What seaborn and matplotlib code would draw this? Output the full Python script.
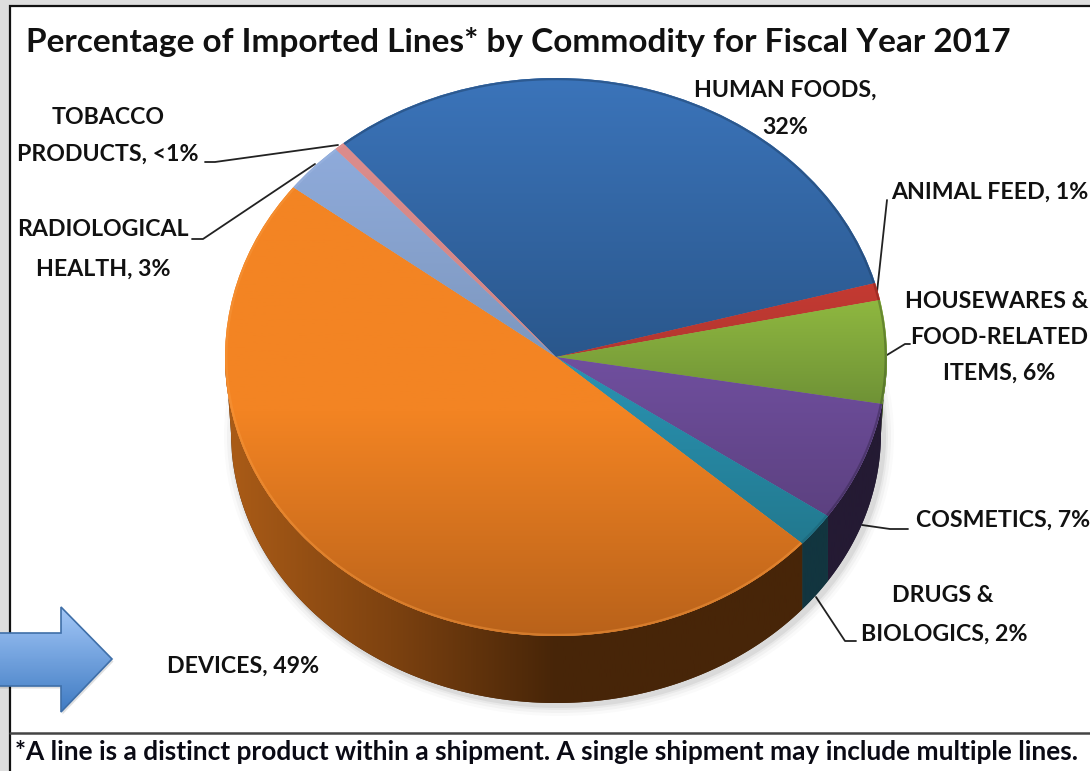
import numpy as np
import matplotlib
matplotlib.use("Agg")
import matplotlib.pyplot as plt
from matplotlib.patches import Ellipse, Polygon, Rectangle
import seaborn as sns

# Share of imported lines per commodity, clockwise from the top-left
categories = ["Human Foods", "Animal Feed", "Housewares & Food-Related Items", "Cosmetics",
              "Drugs & Biologics", "Devices", "Radiological Health", "Tobacco Products"]
values = [32, 1, 6, 7, 2, 49, 3, 0.5]
face_top = ["#3b74ba", "#c43a32", "#8fb840", "#704f9f", "#2a93b3", "#f38423", "#8fabdb", "#dc8c8c"]
face_bottom = ["#2a578c", "#b33630", "#6f9236", "#5c4180", "#22798f", "#b9621a", "#7d97be", "#cf8585"]
side_left = ["#1b3350", "#5a1a16", "#34481a", "#241a33", "#12353f", "#ab5c17", "#4a5a78", "#6a3c3c"]
side_right = ["#1b3350", "#5a1a16", "#34481a", "#241a33", "#12353f", "#472508", "#4a5a78", "#6a3c3c"]
rim_colors = ["#1d3d63", "#7a1f1a", "#3c5620", "#33244a", "#1b5f70", "#f79a40", "#9fb8e2", "#e09a9a"]

title = "Percentage of Imported Lines* by Commodity for Fiscal Year 2017"
footnote = "*A line is a distinct product within a shipment. A single shipment may include multiple lines."
label_lines = [
    ("HUMAN FOODS,", 785, 90, "center"), ("32%", 785, 128, "center"),
    ("ANIMAL FEED, 1%", 891, 192, "left"),
    ("HOUSEWARES &", 997, 301, "center"), ("FOOD-RELATED", 999, 338, "center"), ("ITEMS, 6%", 999, 373, "center"),
    ("COSMETICS, 7%", 916, 520, "left"),
    ("DRUGS &", 943, 596, "center"), ("BIOLOGICS, 2%", 944, 634, "center"),
    ("DEVICES, 49%", 243, 666, "center"),
    ("RADIOLOGICAL", 103, 230, "center"), ("HEALTH, 3%", 103, 269, "center"),
    ("TOBACCO", 108, 117, "center"), ("PRODUCTS, <1%", 108, 154, "center"),
]
leader_xs = [[205, 215, 338], [192, 203, 315], [877, 887], [887, 905, 910], [862, 890, 908], [816, 845, 856]]
leader_ys = [[162, 162, 145], [239, 239, 164], [292, 200], [355, 344, 344], [525, 529, 529], [597, 641, 641]]

W, H = 1090, 771
CX, CY, A, B = 556, 357, 331, 279     # top face of the pie
CY2, A2, B2 = 433, 325, 270           # bottom rim of the pie

sns.set_theme(style="white")
plt.rcParams["font.family"] = ["Lato", "DejaVu Sans"]
plt.rcParams["font.weight"] = "bold"

fig = plt.figure(figsize=(W / 100, H / 100), dpi=100, facecolor="#dedede")

# Page layer in pixel units: frame, arrow, labels and leader lines
page = fig.add_axes([0, 0, 1, 1], zorder=0)
page.set_xlim(0, W)
page.set_ylim(H, 0)
page.axis("off")
page.add_patch(Rectangle((10, 6), W, H, fc="white", ec="#111111", lw=1.6))
page.plot([10, W], [733, 733], color="#444444", lw=1.8)

arrow = Polygon([(-4, 633), (61, 633), (61, 607), (112, 659), (61, 712), (61, 686), (-4, 686)],
                closed=True, fc="#6f9fdc", ec="none", zorder=2)
shadow = Polygon(arrow.get_xy() + [1.5, 2.5], closed=True, fc="#000000", alpha=0.12, ec="none", zorder=1.5)
outline = Polygon(arrow.get_xy(), closed=True, fc="none", ec="#3f6fa8", lw=1.2, zorder=2.2)
page.add_patch(shadow)
page.add_patch(arrow)
page.add_patch(outline)
arrow_cmap = sns.blend_palette(["#a3c7f7", "#3f7bc3"], as_cmap=True)
arrow_img = page.imshow(np.linspace(0, 1, 128)[:, None], extent=(-4, 112, 712, 607), cmap=arrow_cmap,
                        aspect="auto", origin="upper", zorder=2.1)
arrow_img.set_clip_path(arrow)
page.set_xlim(0, W)
page.set_ylim(H, 0)

page.text(26, 42, title, fontsize=24.0, color="#111111", va="center", ha="left", fontweight="bold")
page.text(15, 752, footnote, fontsize=18.9, color="#0a0a14", va="center", ha="left", fontweight="bold")
for text, x, y, align in label_lines:
    page.text(x, y, text, fontsize=16.7, color="#111111", ha=align, va="center", fontweight="bold")
for xs, ys in zip(leader_xs, leader_ys):
    page.plot(xs, ys, color="#222222", lw=1.3)

# Pie layer: data units are the top-face radii, so the circle appears as an ellipse
pie_ax = fig.add_axes([0, 0, 1, 1], zorder=1)
pie_ax.patch.set_alpha(0)
wedges, _ = pie_ax.pie(values, startangle=130, counterclock=False, radius=1, colors=face_top,
                       wedgeprops=dict(linewidth=0))
x_limits = (-CX / A, (W - CX) / A)
y_limits = ((CY - H) / B, CY / B)


def restore_view():
    pie_ax.set_aspect("auto")
    pie_ax.set_xlim(*x_limits)
    pie_ax.set_ylim(*y_limits)
    pie_ax.axis("off")


restore_view()

# Soft drop shadow under the body
low_y = (CY - CY2) / B
for grow, alpha in [(10, 0.02), (7, 0.03), (4, 0.04), (2, 0.06)]:
    pie_ax.add_patch(Ellipse((3 / A, low_y - 3 / B), 2 * (A2 + grow) / A, 2 * (B2 + grow) / B,
                             fc="black", ec="none", alpha=alpha, zorder=0.2))

# Side walls: the front part of each slice is extruded down to the lower rim
for wedge, c_left, c_right in zip(wedges, side_left, side_right):
    a1, a2 = sorted((wedge.theta1, wedge.theta2))
    angles = np.radians(np.linspace(a1, a2, 240))
    angles = angles[np.sin(angles) <= 0.02]
    if len(angles) < 2:
        continue
    top_x, top_y = np.cos(angles), np.sin(angles)
    px = np.clip(A * top_x, -A2, A2)
    bot_y = (CY - CY2 - B2 * np.sqrt(np.clip(1 - (px / A2) ** 2, 0, 1))) / B
    bot_x = px / A
    verts = np.column_stack([np.r_[top_x, bot_x[::-1]], np.r_[top_y, bot_y[::-1]]])
    wall = Polygon(verts, closed=True, fc=c_right, ec="none", zorder=1)
    pie_ax.add_patch(wall)
    mid = "#7d4210" if c_left == "#ab5c17" else c_left
    wall_cmap = sns.blend_palette([c_left, mid, c_right, c_right, c_right], as_cmap=True)
    img = pie_ax.imshow(np.linspace(0, 1, 256)[None, :], extent=(-1, 1, -2, 2), cmap=wall_cmap,
                        aspect="auto", zorder=1.1)
    img.set_clip_path(wall)

# Top face: each slice shaded over its own height, with a thin bevel along its arc
for wedge, c_top, c_bottom, c_rim in zip(wedges, face_top, face_bottom, rim_colors):
    wedge.set_zorder(2)
    a1, a2 = sorted((wedge.theta1, wedge.theta2))
    angles = np.radians(np.linspace(a1, a2, 200))
    y_high = max(np.sin(angles).max(), 0)
    y_low = min(np.sin(angles).min(), 0)
    cmap = sns.blend_palette([c_top, c_top, c_bottom] if y_high - y_low > 1.2 else [c_top, c_bottom],
                             as_cmap=True)
    img = pie_ax.imshow(np.linspace(0, 1, 256)[:, None], extent=(-1, 1, y_low, y_high), cmap=cmap,
                        aspect="auto", zorder=2.1)
    img.set_clip_path(wedge)
    pie_ax.plot(0.996 * np.cos(angles), 0.996 * np.sin(angles), color=c_rim, lw=1.6, alpha=0.45,
                zorder=2.2, solid_capstyle="butt")

restore_view()
fig.savefig("out.png", dpi=100, facecolor=fig.get_facecolor())
